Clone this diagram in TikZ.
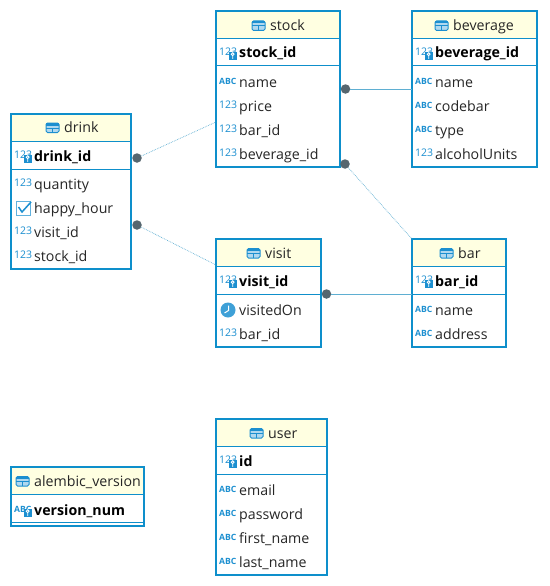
\documentclass[tikz,border=0pt]{standalone}
\usepackage{fontspec}
\setmainfont{Open Sans}
\definecolor{erblue}{HTML}{0E8FCB}
\definecolor{iconblue}{HTML}{1C8FD0}
\definecolor{headfill}{HTML}{FFFFE1}
\definecolor{dotgrey}{HTML}{56666F}
\definecolor{linkblue}{HTML}{5FAFD2}
\tikzset{
  x=1pt,y=-1pt,
  framebox/.style={draw=erblue,line width=2pt,fill=white,outer sep=0pt},
  headbox/.style={fill=headfill,draw=none},
  sepline/.style={draw=erblue,line width=1pt},
  coltext/.style={anchor=base west,inner sep=0pt,font=\fontsize{14.2}{16}\selectfont,text=black!85},
  keytext/.style={coltext,font=\fontsize{14.2}{16}\selectfont\bfseries,text=black},
  icontext/.style={anchor=base west,inner sep=0pt,font=\fontsize{10.5}{12}\selectfont,text=iconblue},
  abctext/.style={anchor=base west,inner sep=0pt,font=\fontsize{8.6}{10}\selectfont\bfseries,text=iconblue},
  reldot/.style={circle,fill=dotgrey,draw=none,minimum size=9.5pt,inner sep=0pt},
  dotlink/.style={draw=linkblue,line width=.7pt,densely dotted},
  sollink/.style={draw=linkblue,line width=.8pt},
}
% table: name, x1, y1, x2, y2, line1, line2, title, icon x
\newcommand{\ertable}[9]{%
  \node[framebox,minimum width=#4pt-#2pt,minimum height=#5pt-#3pt,inner sep=0pt,anchor=north west] (#1) at (#2,#3) {};
  \fill[headfill] (#2+1,#3+1) rectangle (#4-1,#6);
  \draw[sepline] (#2,#6) -- (#4,#6);
  \draw[sepline] (#2,#7) -- (#4,#7);
  \draw[iconblue,line width=1pt,rounded corners=1.5pt,fill=iconblue!35] (#9,#3+9.5) rectangle (#9+13,#3+19);
  \draw[iconblue,line width=1pt] (#9,#3+14.5) -- (#9+13,#3+14.5) (#9+6.5,#3+14.5) -- (#9+6.5,#3+19);
  \fill[iconblue] (#9,#3+9.5) rectangle (#9+13,#3+12);
  \node[coltext] (#1-title) at (#9+18,#3+19) {#8};
}
\newcommand{\numicon}[3]{\node[icontext] (#1-icon) at (#2+3,#3+2.5) {123};}
\newcommand{\abcicon}[3]{\node[abctext] (#1-icon) at (#2+3,#3+2.5) {ABC};}
\newcommand{\keybadge}[2]{%
  \fill[iconblue] (#1+13,#2-1) rectangle (#1+20.5,#2+7);
  \draw[white,line width=.9pt] (#1+16.7,#2+1.2) circle (1.4) (#1+16.7,#2+2.6) -- (#1+16.7,#2+5.8);
}
% column: table-col name, table x, centre y, icon macro, text
\newcommand{\plaincol}[5]{#4{#1}{#2}{#3}\node[coltext] (#1) at (#2+23,#3+5) {#5};}
\newcommand{\keycol}[5]{#4{#1}{#2}{#3}\keybadge{#2}{#3}\node[keytext] (#1) at (#2+23,#3+5) {#5};}
\begin{document}
\begin{tikzpicture}
\useasboundingbox (0,0) rectangle (549,586);
\fill[white] (0,0) rectangle (549,586);

\ertable{stock}{216}{11.5}{340}{167}{39}{66}{stock}{252}
\keycol{stockid}{216}{53}{\numicon}{stock\_id}
\plaincol{stockname}{216}{82}{\abcicon}{name}
\plaincol{stockprice}{216}{106}{\numicon}{price}
\plaincol{stockbar}{216}{130}{\numicon}{bar\_id}
\plaincol{stockbev}{216}{154}{\numicon}{beverage\_id}

\ertable{beverage}{412}{11.5}{537}{167}{39}{66}{beverage}{435}
\keycol{bevid}{412}{53}{\numicon}{beverage\_id}
\plaincol{bevname}{412}{82}{\abcicon}{name}
\plaincol{bevcode}{412}{106}{\abcicon}{codebar}
\plaincol{bevtype}{412}{130}{\abcicon}{type}
\plaincol{bevalc}{412}{154}{\numicon}{alcoholUnits}

\ertable{drink}{11}{113.5}{131}{268.5}{141}{169}{drink}{46}
\keycol{drinkid}{11}{156}{\numicon}{drink\_id}
\plaincol{drinkqty}{11}{184}{\numicon}{quantity}
\node[coltext] (drinkhappy) at (34,213) {happy\_hour};
\draw[iconblue!70,line width=1pt] (16,201) rectangle (30,215);
\draw[iconblue,line width=1.5pt] (18.5,207) -- (22,212) -- (31,202);
\plaincol{drinkvisit}{11}{232}{\numicon}{visit\_id}
\plaincol{drinkstock}{11}{256}{\numicon}{stock\_id}

\ertable{visit}{216}{239}{321}{347}{266}{294}{visit}{247}
\keycol{visitid}{216}{281}{\numicon}{visit\_id}
\node[coltext] (visiton) at (239,315) {visitedOn};
\fill[iconblue!85] (228,310) circle (7.5);
\draw[white,line width=1pt] (228.5,305.5) -- (228.5,310.5) -- (224.5,313);
\plaincol{visitbar}{216}{334}{\numicon}{bar\_id}

\ertable{bar}{412}{239}{506}{347}{266}{294}{bar}{440}
\keycol{barid}{412}{281}{\numicon}{bar\_id}
\plaincol{barname}{412}{310}{\abcicon}{name}
\plaincol{baraddr}{412}{334}{\abcicon}{address}

\ertable{user}{216}{419}{327}{575}{446}{474}{user}{250}
\keycol{userid}{216}{461}{\numicon}{id}
\plaincol{useremail}{216}{490}{\abcicon}{email}
\plaincol{userpass}{216}{514}{\abcicon}{password}
\plaincol{userfirst}{216}{538}{\abcicon}{first\_name}
\plaincol{userlast}{216}{562}{\abcicon}{last\_name}

\ertable{alembic}{11}{467}{144}{526}{494}{522}{alembic\_version}{16}
\keycol{alembicnum}{11}{510}{\abcicon}{version\_num}

% relationship end dots
\node[reldot] (d1) at (137,158) {};
\node[reldot] (d2) at (137,225) {};
\node[reldot] (d3) at (345.5,89) {};
\node[reldot] (d4) at (345,164) {};
\node[reldot] (d5) at (326.5,294) {};
\coordinate (stockL) at (216,122);
\coordinate (visitL) at (216,265);
\coordinate (bevL) at (412,89);
\coordinate (barT) at (412,239);
\coordinate (barL) at (412,294);
\draw[dotlink] (d1) -- (stockL);
\draw[dotlink] (d2) -- (visitL);
\draw[sollink] (d3) -- (bevL);
\draw[dotlink] (d4) -- (barT);
\draw[sollink] (d5) -- (barL);
\end{tikzpicture}
\end{document}
